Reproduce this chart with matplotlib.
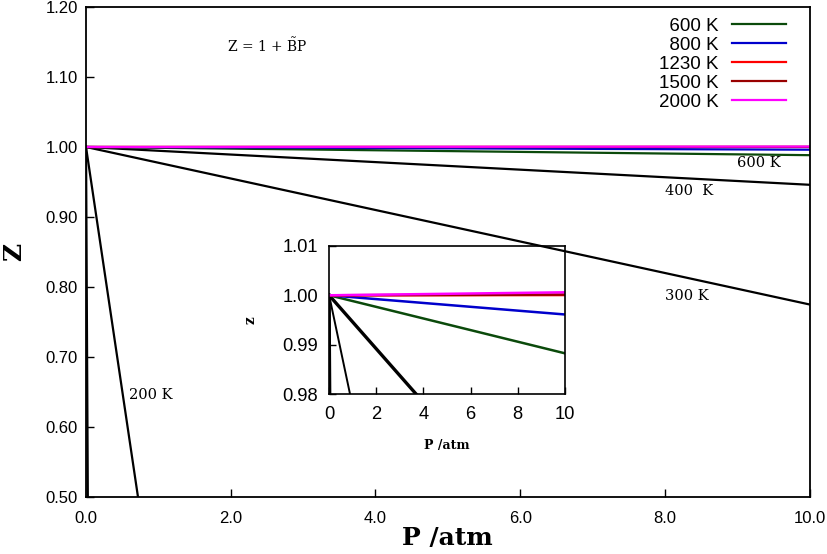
import numpy as np
import matplotlib
matplotlib.use("Agg")
import matplotlib.pyplot as plt

plt.rcParams['font.family'] = ['Liberation Sans', 'DejaVu Sans']
plt.rcParams['mathtext.fontset'] = 'dejavuserif'

# second virial coefficient B~ (atm^-1), Z = 1 + B~ P
temps_low = ["100 K", "200 K", "300 K", "400 K"]
B_low = [-20.0, -0.696, -0.0225, -0.0054]

temps_high = ["600 K", "800 K", "1230 K", "1500 K", "2000 K"]
B_high = [-0.00117, -0.000387, 0.000005, 0.000015, 0.00006]
colors_high = ["#0b4a0b", "#0000cc", "#ff0000", "#990000", "#ff00ff"]

P = np.array([0.0, 10.0])
serif = "DejaVu Serif"

fig = plt.figure(figsize=(8.27, 5.54), dpi=100)
ax = fig.add_axes([0.104, 0.1029, 0.875, 0.8845])

# grey line hugging the y axis
ax.plot(P, 1 - 100 * P, color="#999999", lw=1.5)
for t, b in zip(temps_low, B_low):
    ax.plot(P, 1 + b * P, color="black", lw=1.6)
for t, b, c in zip(temps_high, B_high, colors_high):
    lab = t if len(t.split()[0]) == 4 else "\u2007" + t
    ax.plot(P, 1 + b * P, color=c, lw=1.6, label=lab)

ax.set_xlim(0, 10)
ax.set_ylim(0.5, 1.2)
ax.set_xticks(np.arange(0, 10.1, 2))
ax.set_xticklabels([f"{v:.1f}" for v in np.arange(0, 10.1, 2)])
ax.set_yticks(np.arange(0.5, 1.201, 0.1))
ax.set_yticklabels([f"{v:.2f}" for v in np.arange(0.5, 1.201, 0.1)])
ax.tick_params(direction="in", length=6, width=1, labelsize=12, pad=6)
ax.tick_params(axis="x", pad=10)
for s in ax.spines.values():
    s.set_linewidth(1.3)

ax.set_xlabel("P /atm", fontsize=18, fontweight="bold", family=serif, labelpad=0)
ax.set_ylabel("Z", fontsize=18, fontweight="bold", family=serif, labelpad=14)

ax.text(1.95, 1.136, r"Z = 1 + $\tilde{\mathrm{B}}$P", fontsize=10, family=serif)
ax.text(9.0, 0.972, "600 K", fontsize=10.5, family=serif)
ax.text(8.0, 0.932, "400  K", fontsize=10.5, family=serif)
ax.text(8.0, 0.781, "300 K", fontsize=10.5, family=serif)
ax.text(0.59, 0.64, "200 K", fontsize=10.5, family=serif)

leg = ax.legend(loc="upper right", bbox_to_anchor=(0.968, 0.978), frameon=False,
                markerfirst=False, fontsize=13.5, handlelength=2.9, handletextpad=0.7,
                labelspacing=0.1, borderpad=0, borderaxespad=0)

# inset, transparent so the main curves show through
axi = fig.add_axes([0.398, 0.288, 0.285, 0.2685])
axi.patch.set_alpha(0)
axi.plot(P, 1 + B_low[0] * P, color="black", lw=2.2)
axi.plot(P, 1 + B_low[1] * P, color="black", lw=2.2)
axi.plot(P, 1 + B_low[2] * P, color="black", lw=1.4)
axi.plot(P, 1 + B_low[3] * P, color="black", lw=2.4)
for b, c in zip(B_high, colors_high):
    axi.plot(P, 1 + b * P, color=c, lw=1.8)
axi.set_xlim(0, 10)
axi.set_ylim(0.98, 1.01)
axi.set_xticks(np.arange(0, 10.1, 2))
axi.set_xticklabels([f"{v:.0f}" for v in np.arange(0, 10.1, 2)])
axi.set_yticks([0.98, 0.99, 1.00, 1.01])
axi.set_yticklabels(["0.98", "0.99", "1.00", "1.01"])
axi.tick_params(direction="in", length=5, width=1, labelsize=13.2, pad=8)
for s in axi.spines.values():
    s.set_linewidth(1.2)
axi.set_xlabel("P /atm", fontsize=9, fontweight="bold", family=serif, labelpad=12)
axi.set_ylabel("z", fontsize=10, fontweight="bold", family=serif, labelpad=18)

fig.savefig("out.png", dpi=100)
